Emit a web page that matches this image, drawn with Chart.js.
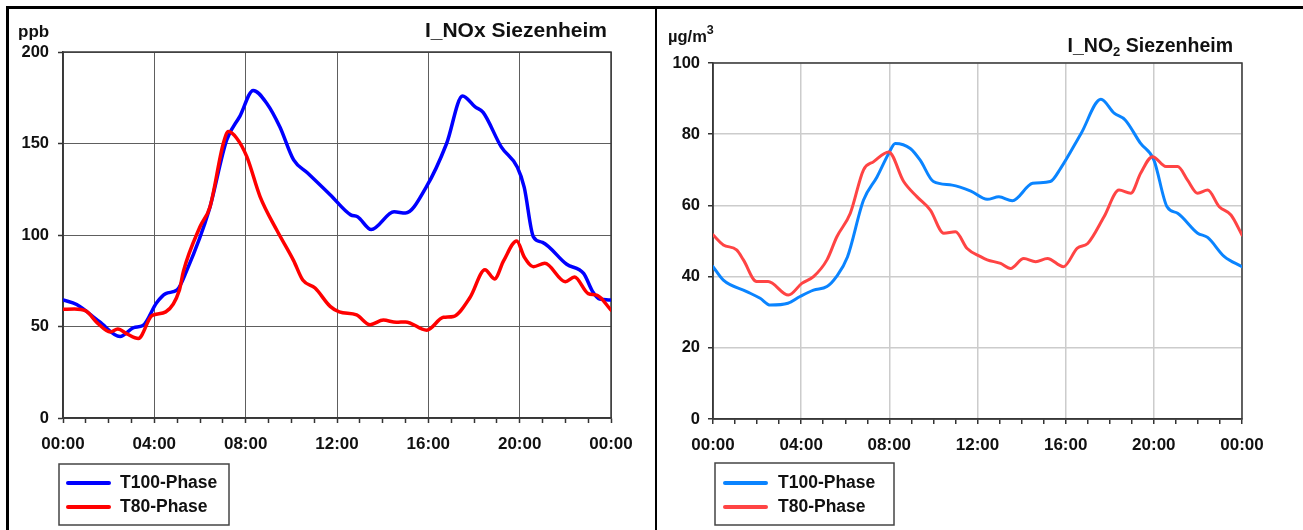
<!DOCTYPE html>
<html>
<head>
<meta charset="utf-8">
<title>NOx / NO2 Siezenheim</title>
<script src="https://cdn.jsdelivr.net/npm/chart.js@4.4.1/dist/chart.umd.min.js"></script>
<style>
  html, body { margin: 0; padding: 0; background: #fff; }
  #wrap { position: relative; width: 1303px; height: 530px; overflow: hidden; }
  #wrap canvas { position: absolute; top: 0; }
  .rule { position: absolute; background: #000; }
</style>
</head>
<body>
<div id="wrap">
  <canvas id="noxChart" width="655" height="530" style="left:0"></canvas>
  <canvas id="no2Chart" width="646" height="530" style="left:657px"></canvas>
  <div class="rule" style="left:6px;top:6px;width:1297px;height:2.5px"></div>
  <div class="rule" style="left:6px;top:6px;width:2.5px;height:524px"></div>
  <div class="rule" style="left:654.5px;top:6px;width:2.5px;height:524px"></div>
</div>
<script>
// NOx daily cycle (ppb), hour of day -> value
const noxT100Hours = [0, 0.6, 1.6, 2.5, 3.1, 3.5, 4.1, 4.5, 5.0, 5.4, 6.4, 7.17, 7.75, 8.33, 8.92, 9.5, 10.1, 10.7, 11.7, 12.6, 12.9, 13.5, 14.5, 15.0, 15.9, 16.8, 17.5, 18.05, 18.4, 19.2, 19.9, 20.2, 20.6, 21.0, 22.06, 22.8, 23.2, 23.5, 24];
const noxT100 = [64.5, 62, 52.6, 44.5, 49.4, 50.5, 63, 68, 70, 80, 113.7, 152, 165, 179, 172, 159, 141, 134, 122, 111, 110, 103, 112.7, 112, 126, 150, 176, 170, 167, 148, 137, 126, 99, 96, 84, 79, 69, 65, 64.5];

const noxT80Hours = [0, 0.5, 1.0, 1.5, 2.07, 2.4, 2.8, 3.3, 3.9, 4.5, 5.1, 5.27, 6.0, 6.44, 7.02, 7.24, 7.6, 8.05, 8.63, 9.36, 10.1, 10.5, 11.04, 11.7, 12.1, 12.86, 13.45, 14.03, 14.6, 15.0, 15.93, 16.66, 17.1, 17.83, 18.48, 18.9, 19.3, 19.87, 20.2, 20.6, 21.1, 22.0, 22.4, 23.0, 23.4, 24];
const noxT80 = [59.4, 59.5, 58.5, 52, 47, 48.6, 46, 43.5, 56, 58, 70, 80, 104.5, 115.5, 150, 156.5, 153, 142.8, 121, 102.7, 86, 75.4, 71, 61, 58, 56.3, 51, 53.5, 52.3, 52.5, 48, 55, 55.5, 66, 81, 76, 86, 96.7, 88, 82.7, 84.5, 74.5, 77, 68, 67, 59];

// NO2 daily cycle (µg/m³)
const no2T100Hours = [0, 0.47, 1.53, 2.14, 2.6, 3.4, 3.95, 4.56, 5.17, 5.6, 6.1, 6.83, 7.44, 7.97, 8.27, 8.95, 9.4, 10.0, 10.85, 11.7, 12.44, 12.97, 13.58, 14.5, 15.3, 15.77, 16.7, 17.6, 18.2, 18.7, 19.4, 20.0, 20.6, 21.08, 21.99, 22.44, 23.2, 24];
const no2T100 = [42.8, 39, 35.8, 33.9, 32, 32.5, 34.4, 36.2, 37.2, 40, 45.5, 61.5, 68, 74.6, 77.4, 76, 72.7, 66.7, 65.7, 64, 61.7, 62.4, 61.3, 66.2, 66.7, 70.4, 80.2, 89.8, 85.9, 84, 77.4, 72.8, 59.6, 57.8, 52.2, 51, 45.6, 42.8];

const no2T80Hours = [0, 0.47, 1.07, 1.38, 1.98, 2.5, 3.42, 4.03, 4.56, 5.17, 5.62, 6.23, 6.83, 7.29, 7.97, 8.65, 9.26, 9.86, 10.47, 11.0, 11.53, 12.14, 12.44, 13.05, 13.5, 14.1, 14.64, 15.17, 15.9, 16.53, 17.0, 17.74, 18.42, 18.95, 19.4, 19.94, 20.55, 21.08, 21.53, 21.99, 22.44, 22.97, 23.5, 24];
const no2T80 = [51.7, 48.9, 47.5, 44.7, 38.6, 38.6, 34.8, 38.1, 40, 44.7, 51.2, 57.8, 70, 72.3, 75, 66.7, 62.4, 58.7, 52.2, 52.6, 47.9, 45.6, 44.7, 43.7, 42.3, 45.1, 44.2, 45.1, 42.8, 48, 49.3, 56.8, 64.3, 63.4, 69, 73.7, 70.9, 70.9, 67.1, 63.4, 64.3, 59.6, 57.3, 51.7];

const seriesLabels = ['T100-Phase', 'T80-Phase'];

const FONT = "'Liberation Sans', Arial, Helvetica, sans-serif";
Chart.defaults.font.family = FONT;
Chart.defaults.font.weight = 'bold';
Chart.defaults.color = '#111';

const toPoints = (hours, values) => hours.map((h, i) => ({ x: h, y: values[i] }));
const hourLabel = v => String(v % 24).padStart(2, '0') + ':00';

// titles and unit label, drawn as pieces so sub/superscripts work
const panelText = {
  id: 'panelText',
  afterDraw(chart, args, opts) {
    const ctx = chart.ctx;
    const fontOf = p => 'bold ' + p.size + 'px ' + FONT;
    ctx.save();
    ctx.fillStyle = '#111';
    ctx.textBaseline = 'alphabetic';
    ctx.textAlign = 'left';
    let total = 0;
    opts.title.forEach(p => { ctx.font = fontOf(p); total += ctx.measureText(p.text).width; });
    let x = opts.titleRight - total;
    opts.title.forEach(p => {
      ctx.font = fontOf(p);
      ctx.fillText(p.text, x, opts.titleBaseline + (p.dy || 0));
      x += ctx.measureText(p.text).width;
    });
    x = opts.unitLeft;
    opts.unit.forEach(p => {
      ctx.font = fontOf(p);
      ctx.fillText(p.text, x, opts.unitBaseline + (p.dy || 0));
      x += ctx.measureText(p.text).width;
    });
    ctx.restore();
  }
};

// dark frame round the plot area
const plotFrame = {
  id: 'plotFrame',
  beforeDatasetsDraw(chart, args, opts) {
    const { left, top, width, height } = chart.chartArea;
    const ctx = chart.ctx;
    ctx.save();
    ctx.strokeStyle = opts.color;
    ctx.lineWidth = opts.width;
    ctx.strokeRect(left, top, width, height);
    ctx.restore();
  }
};

// boxed legend under the x axis, one row per dataset
const boxLegend = {
  id: 'boxLegend',
  afterDraw(chart, args, opts) {
    const ctx = chart.ctx;
    ctx.save();
    ctx.strokeStyle = '#444';
    ctx.lineWidth = 1.5;
    ctx.strokeRect(opts.left, opts.top, opts.width, opts.height);
    ctx.font = 'bold ' + opts.fontSize + 'px ' + FONT;
    ctx.textBaseline = 'middle';
    ctx.textAlign = 'left';
    chart.data.datasets.forEach((ds, i) => {
      const y = opts.firstRow + i * opts.rowGap;
      ctx.strokeStyle = ds.borderColor;
      ctx.lineWidth = 4;
      ctx.lineCap = 'round';
      ctx.beginPath();
      ctx.moveTo(opts.swatchFrom, y);
      ctx.lineTo(opts.swatchTo, y);
      ctx.stroke();
      ctx.fillStyle = '#111';
      ctx.fillText(ds.label, opts.textLeft, y);
    });
    ctx.restore();
  }
};

function makeChart(id, cfg) {
  const gridColor = cfg.gridColor;
  return new Chart(document.getElementById(id), {
    type: 'line',
    data: {
      datasets: [
        { label: seriesLabels[0], data: cfg.t100, borderColor: cfg.colors[0], order: 1 },
        { label: seriesLabels[1], data: cfg.t80, borderColor: cfg.colors[1], order: 0 }
      ]
    },
    options: {
      responsive: false,
      animation: false,
      events: [],
      layout: { padding: { top: cfg.top, right: cfg.right, left: 0, bottom: 0 } },
      elements: {
        point: { radius: 0 },
        line: { borderWidth: cfg.lineWidth, cubicInterpolationMode: 'monotone', fill: false, borderCapStyle: 'round', borderJoinStyle: 'round' }
      },
      plugins: {
        legend: { display: false },
        tooltip: { enabled: false },
        panelText: cfg.text,
        plotFrame: { color: '#3a3a3a', width: 1.5 },
        boxLegend: cfg.legend
      },
      scales: {
        x: {
          type: 'linear',
          min: 0,
          max: 24,
          afterFit: s => { s.height = cfg.xHeight; },
          ticks: {
            stepSize: 1,
            autoSkip: false,
            maxRotation: 0,
            padding: 11,
            font: { size: 17, weight: 'bold' },
            callback: v => (v % 4 === 0 ? hourLabel(v) : '')
          },
          grid: {
            color: ctx => (ctx.tick && ctx.tick.value % 4 === 0 ? gridColor : 'rgba(0,0,0,0)'),
            lineWidth: cfg.gridWidth,
            tickColor: '#333',
            tickWidth: 1.5,
            tickLength: 5
          },
          border: { color: '#333', width: 1.5 }
        },
        y: {
          min: 0,
          max: cfg.yMax,
          afterFit: s => { s.width = cfg.yWidth; },
          ticks: { stepSize: cfg.yStep, padding: cfg.yPad, font: { size: 16.5, weight: 'bold' } },
          grid: { color: gridColor, lineWidth: cfg.gridWidth, tickColor: '#333', tickWidth: 1.5, tickLength: 5 },
          border: { color: '#333', width: 1.5 }
        }
      }
    },
    plugins: [plotFrame, panelText, boxLegend]
  });
}

// NOx panel
makeChart('noxChart', {
  t100: toPoints(noxT100Hours, noxT100),
  t80: toPoints(noxT80Hours, noxT80),
  colors: ['#0000ff', '#ff0000'],
  lineWidth: 3.5,
  gridColor: '#5e5e5e',
  gridWidth: 1,
  top: 52, right: 44, xHeight: 112, yWidth: 63, yPad: 9,
  yMax: 200, yStep: 50,
  text: {
    title: [{ text: 'I_NOx Siezenheim', size: 21 }],
    titleRight: 607, titleBaseline: 37,
    unit: [{ text: 'ppb', size: 17 }],
    unitLeft: 18, unitBaseline: 37
  },
  legend: { left: 59, top: 464, width: 170, height: 61, firstRow: 483, rowGap: 24, swatchFrom: 68, swatchTo: 109, textLeft: 120, fontSize: 17.5 }
});

// NO2 panel
makeChart('no2Chart', {
  t100: toPoints(no2T100Hours, no2T100),
  t80: toPoints(no2T80Hours, no2T80),
  colors: ['#0a84ff', '#ff4444'],
  lineWidth: 3,
  gridColor: '#cccccc',
  gridWidth: 1.5,
  top: 63, right: 61, xHeight: 111, yWidth: 56, yPad: 8,
  yMax: 100, yStep: 20,
  text: {
    title: [{ text: 'I_NO', size: 19.5 }, { text: '2', size: 13, dy: 4 }, { text: ' Siezenheim', size: 19.5 }],
    titleRight: 576, titleBaseline: 52,
    unit: [{ text: 'µg/m', size: 16.5 }, { text: '3', size: 12.5, dy: -8 }],
    unitLeft: 11, unitBaseline: 42
  },
  legend: { left: 58, top: 463, width: 179, height: 62, firstRow: 483, rowGap: 24, swatchFrom: 68, swatchTo: 109, textLeft: 121, fontSize: 17.5 }
});
</script>
</body>
</html>
